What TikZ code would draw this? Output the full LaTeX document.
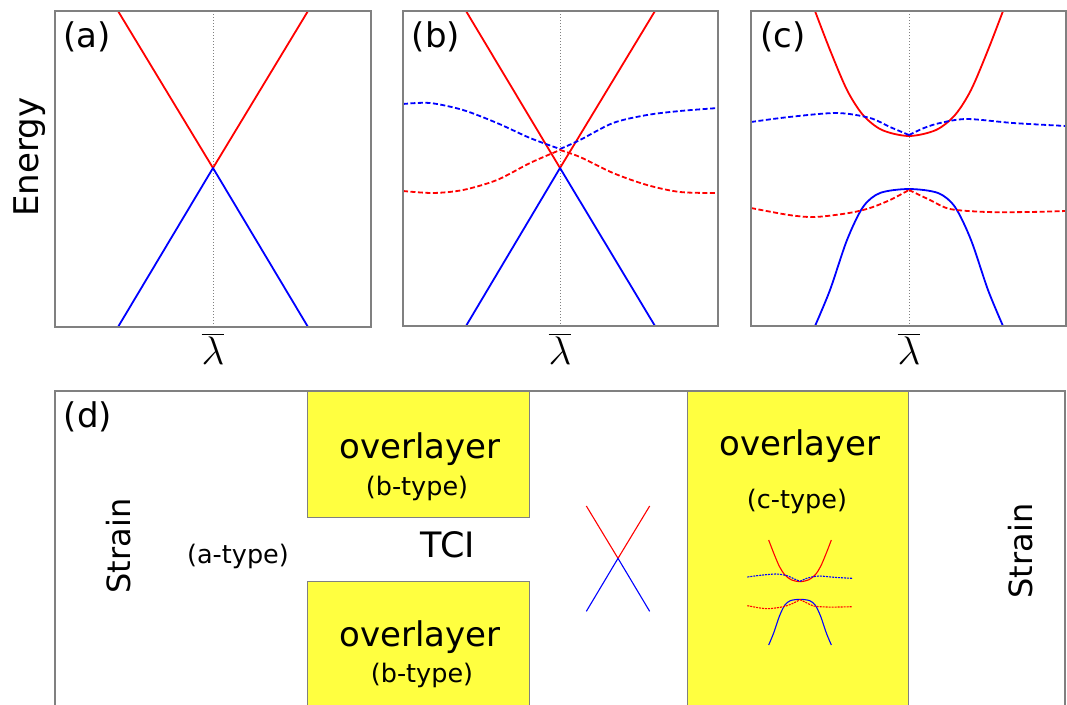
\documentclass[tikz,border=0pt]{standalone}
\usepackage{fontspec}
\setmainfont{DejaVu Sans}
\definecolor{bandred}{RGB}{255,0,0}
\definecolor{bandblue}{RGB}{0,0,255}
\definecolor{framegray}{RGB}{128,128,128}
\definecolor{boxyellow}{RGB}{255,255,64}
\newcommand{\bandsA}{%
  \draw[rb,bsolid] (-95,0) -- (0,157) -- (95,0);
  \draw[bb,bsolid] (-95,316) -- (0,157) -- (95,316);
}
\newcommand{\bandsB}{%
  \draw[rb,bsolid] (-94,0) -- (0,157) -- (95,0);
  \draw[bb,bsolid] (-94,315) -- (0,157) -- (95,315);
  \draw[bb,bdash] plot[smooth] coordinates {(-157,93) (-130,92) (-97,99) (-63,112) (-30,127) (0,138)}
                  plot[smooth] coordinates {(0,138) (20,129) (53,112) (87,104) (120,100) (158,97)};
  \draw[rb,bdash] plot[smooth] coordinates {(-157,180) (-127,182) (-97,179) (-63,169) (-30,152) (0,139)}
                  plot[smooth] coordinates {(0,139) (20,146) (53,162) (87,174) (120,181) (157,182)};
}
\newcommand{\bandsC}{%
  \draw[rb,bsolid] plot[smooth] coordinates {(-94,0) (-79,39) (-62,79) (-46,104) (-27,119) (0,125) (27,119) (46,104) (62,79) (79,39) (94,0)};
  \draw[bb,bsolid] plot[smooth] coordinates {(-94,315) (-79,279) (-62,229) (-46,196) (-29,182) (0,178) (29,182) (46,196) (62,229) (79,279) (94,315)};
  \draw[bb,bdash] plot[smooth] coordinates {(-158,111) (-120,106) (-72,102) (-39,107) (-19,116) (0,124)}
                  plot[smooth] coordinates {(0,124) (15,117) (31,112) (58,108) (104,112) (157,115)};
  \draw[rb,bdash] plot[smooth] coordinates {(-158,197) (-120,204) (-94,206) (-60,202) (-39,197) (-19,189) (0,179)}
                  plot[smooth] coordinates {(0,179) (21,189) (41,198) (78,201) (120,201) (157,200)};
}
\begin{document}
\begin{tikzpicture}[x=1pt,y=-1pt,
  frame/.style={draw=framegray, line width=1.1pt},
  ybox/.style={fill=boxyellow, draw=framegray, line width=0.9pt},
  midline/.style={draw=gray, line width=0.8pt, dash pattern=on 1pt off 2pt},
  bsolid/.style={line width=1.8pt, line join=round},
  bdash/.style={line width=1.8pt, dash pattern=on 5pt off 2.5pt},
  rb/.style={draw=bandred}, bb/.style={draw=bandblue},
  big/.style={font=\fontsize{34}{40}\selectfont, inner sep=0pt},
  strainlab/.style={font=\fontsize{32}{38}\selectfont, inner sep=0pt, rotate=90},
  mid/.style={font=\fontsize{25.5}{30}\selectfont, inner sep=0pt},
  lam/.style={inner sep=0pt}]
\clip (0,0) rectangle (1067,704);
\fill[white] (0,0) rectangle (1067,704);

% centre lines
\draw[midline] (213,11) -- (213,327);
\draw[midline] (560,11) -- (560,326);
\draw[midline] (909,11) -- (909,326);

% bands
\begin{scope}[shift={(213,11)}] \bandsA \end{scope}
\begin{scope}[shift={(560,11)}] \bandsB \end{scope}
\begin{scope}[shift={(909,11)}] \bandsC \end{scope}

% frames
\draw[frame] (55,11) rectangle (371,327);
\draw[frame] (403,11) rectangle (718,326);
\draw[frame] (751,11) rectangle (1066,326);

% labels
\node[big] (la) at (87,37) {(a)};
\node[big] (lb) at (436,37) {(b)};
\node[big] (lc) at (783,37) {(c)};
\node[big, rotate=90] (energy) at (30,157) {Energy};
\node[lam] (lamA) at (213,349) {\scalebox{1.6}{\Huge$\overline{\lambda}$}};
\node[lam] (lamB) at (560,349) {\scalebox{1.6}{\Huge$\overline{\lambda}$}};
\node[lam] (lamC) at (909,349) {\scalebox{1.6}{\Huge$\overline{\lambda}$}};

% panel d
\draw[ybox] (307,391) rectangle (529,517);
\draw[ybox] (307,581) rectangle (529,720);
\draw[ybox] (687,391) rectangle (908,720);
\draw[frame] (55,391) rectangle (1065,720);

\node[big] (ld) at (88,417) {(d)};
\node[strainlab] (strainL) at (119,546) {Strain};
\node[strainlab] (strainR) at (1021,551) {Strain};
\node[mid] (atype) at (238,556) {(a-type)};
\node[font=\fontsize{35}{40}\selectfont, inner sep=0pt] (tci) at (448,545) {TCI};
\node[big, anchor=base] (ov1) at (420,458) {overlayer};
\node[mid, anchor=base] (bt1) at (417,495) {(b-type)};
\node[big, anchor=base] (ov2) at (420,646) {overlayer};
\node[mid, anchor=base] (bt2) at (422,682) {(b-type)};
\node[big, anchor=base] (ov3) at (800,455) {overlayer};
\node[mid, anchor=base] (ct) at (797,508) {(c-type)};

% small band sketches
\begin{scope}[shift={(618,506)}, scale=1/3, bsolid/.style={line width=1.1pt}]
  \bandsA
\end{scope}
\begin{scope}[shift={(800,540)}, scale=1/3, bsolid/.style={line width=1.1pt},
  bdash/.style={line width=1.1pt, dash pattern=on 2pt off 1pt}]
  \bandsC
\end{scope}
\end{tikzpicture}
\end{document}
